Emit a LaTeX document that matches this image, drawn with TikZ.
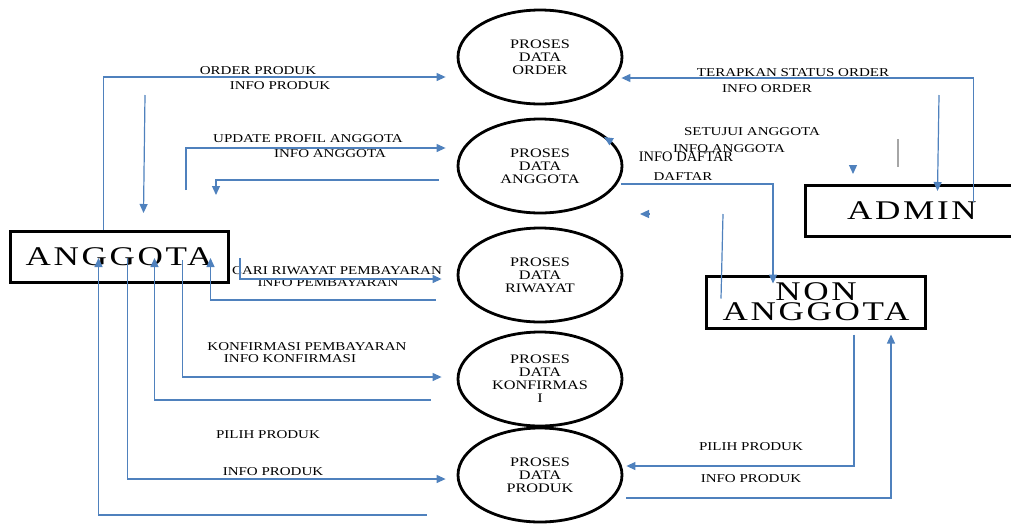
\documentclass[tikz,border=0pt]{standalone}
\usepackage{fontspec}
\setmainfont{Liberation Serif}
\newfontfamily\dfdfont[FakeStretch=1.25]{Liberation Serif}
\newfontfamily\entfont[FakeStretch=1.3,LetterSpace=10]{Liberation Serif}
\usetikzlibrary{shapes.geometric,arrows.meta}
\definecolor{flowline}{RGB}{79,129,189}
\colorlet{stubline}{gray!70}
\tikzset{process/.style={ellipse, draw, line width=2.8pt, minimum width=164pt, minimum height=94pt, inner sep=0pt, align=center, font=\dfdfont\fontsize{13}{13}\selectfont},
	entity/.style={draw, line width=3pt, minimum height=51pt, inner sep=0pt, align=center, font=\entfont\fontsize{27}{20}\selectfont},
	flow/.style={draw=flowline, line width=1.2pt, -{Triangle[length=9pt,width=8pt]}},
	plain/.style={draw=flowline, line width=1.2pt},
	lbl/.style={font=\dfdfont\fontsize{12}{12}\selectfont, inner sep=0pt}}

\begin{document}
\begin{tikzpicture}[x=1pt,y=-1pt]
		\useasboundingbox (0,0) rectangle (1011,523);
		\clip (0,0) rectangle (1011,523);
		\node[process] (order) at (540,57) {PROSES\\DATA\\ORDER};
		\node[process] (agt) at (540,166) {PROSES\\DATA\\ANGGOTA};
		\node[process] (riw) at (540,275) {PROSES\\DATA\\RIWAYAT};
		\node[process] (konf) at (540,379) {PROSES\\DATA\\KONFIRMAS\\I};
		\node[process] (prod) at (540,475) {PROSES\\DATA\\PRODUK};
		\node[entity, minimum width=218pt] (anggota) at (119,257) {ANGGOTA};
		\node[entity, minimum width=214pt] (admin) at (912,211) {ADMIN};
		\node[entity, minimum width=219pt, minimum height=52pt] (nonagt) at (816,302) {NON\\ANGGOTA};
		
		\node[lbl] (lorder) at (258,71) {ORDER PRODUK};
		\node[lbl] (linfoprod) at (280,86) {INFO PRODUK};
		\node[lbl] (lupdate) at (308,139) {UPDATE PROFIL ANGGOTA};
		\node[lbl] (linfoagt) at (330,154) {INFO ANGGOTA};
		\node[lbl] (lcari) at (337,271) {CARI RIWAYAT PEMBAYARAN};
		\node[lbl] (linfobayar) at (328,283) {INFO PEMBAYARAN};
		\node[lbl] (lkonf) at (307,347) {KONFIRMASI PEMBAYARAN};
		\node[lbl] (linfokonf) at (290,359) {INFO KONFIRMASI};
		\node[lbl] (lpilih) at (268,435) {PILIH PRODUK};
		\node[lbl] (linfoprodb) at (273,472) {INFO PRODUK};
		\node[lbl] (lstatus) at (793,73) {TERAPKAN STATUS ORDER};
		\node[lbl] (linfoorder) at (767,89) {INFO ORDER};
		\node[lbl] (lsetuju) at (752,132) {SETUJUI ANGGOTA};
		\node[lbl] (linfoagtb) at (729,149) {INFO ANGGOTA};
		\node[inner sep=0pt, font=\fontsize{14.5}{15}\selectfont] (ldaftarinfo) at (686,157) {INFO DAFTAR};
		\node[lbl] (ldaftar) at (683,177) {DAFTAR};
		\node[lbl] (lpilihb) at (751,447) {PILIH PRODUK};
		\node[lbl] (linfoprodc) at (751,479) {INFO PRODUK};
		
		\coordinate (ipA) at (145,95);
		\coordinate (upA) at (186,190);
		\coordinate (iaA) at (216,195);
		\coordinate (crA) at (240,258);
		\coordinate (ioA) at (939,95);
		\coordinate (dfA) at (723,214);
		\coordinate (gA) at (898,139);
		\coordinate (gB) at (898,167);
		\coordinate (hA) at (853,165);
		\coordinate (hB) at (853,174);
		\coordinate (hC) at (612,142);
		\coordinate (hD) at (604,137);
		\coordinate (hE) at (649,214);
		\coordinate (hF) at (640,214);
		
		\draw[flow] ([xshift=95pt]anggota.north west) |- ([xshift=-11pt,yshift=-20pt]order.west);
		\draw[flow] (ipA) -- ([xshift=135pt,yshift=17pt]anggota.north west);
		\draw[flow] (upA) |- ([xshift=-11pt,yshift=18pt]agt.west);
		\draw[flow] ([xshift=-18pt,yshift=-14pt]agt.west) -| (iaA);
		\draw[flow] (crA) |- ([xshift=-15pt,yshift=-4pt]riw.west);
		\draw[flow] ([xshift=-21pt,yshift=-25pt]riw.west) -| ([xshift=202pt,yshift=-28pt]anggota.north west);
		\draw[flow] ([xshift=174pt,yshift=-30pt]anggota.north west) |- ([xshift=-15pt,yshift=2pt]konf.west);
		\draw[flow] ([xshift=-26pt,yshift=-21pt]konf.west) -| ([xshift=146pt,yshift=-28pt]anggota.north west);
		\draw[flow] ([xshift=119pt,yshift=-28pt]anggota.north west) |- ([xshift=-11pt,yshift=-4pt]prod.west);
		\draw[flow] ([xshift=-30pt,yshift=-40pt]prod.west) -| ([xshift=90pt,yshift=-28pt]anggota.north west);
		
		\draw[flow] ([xshift=170pt,yshift=-18pt]admin.north west) |- ([xshift=-2pt,yshift=-21pt]order.east);
		\draw[flow] (ioA) -- ([xshift=134pt,yshift=-7pt]admin.north west);
		\draw[plain, draw=stubline] (gA) -- (gB);
		\draw[flow] (hA) -- (hB);
		\draw[flow] (hC) -- (hD);
		\draw[flow] (hE) -- (hF);
		\draw[flow] ([xshift=-2pt,yshift=-18pt]agt.east) -| ([xshift=68pt,yshift=-9pt]nonagt.north west);
		\draw[plain] (dfA) -- ([xshift=16pt,yshift=-24pt]nonagt.north west);
		\draw[flow] ([xshift=149pt,yshift=-5pt]nonagt.south west) |- ([xshift=3pt,yshift=9pt]prod.east);
		\draw[flow] ([xshift=3pt,yshift=-23pt]prod.east) -| ([xshift=186pt,yshift=-5pt]nonagt.south west);
		\end{tikzpicture}
\end{document}
